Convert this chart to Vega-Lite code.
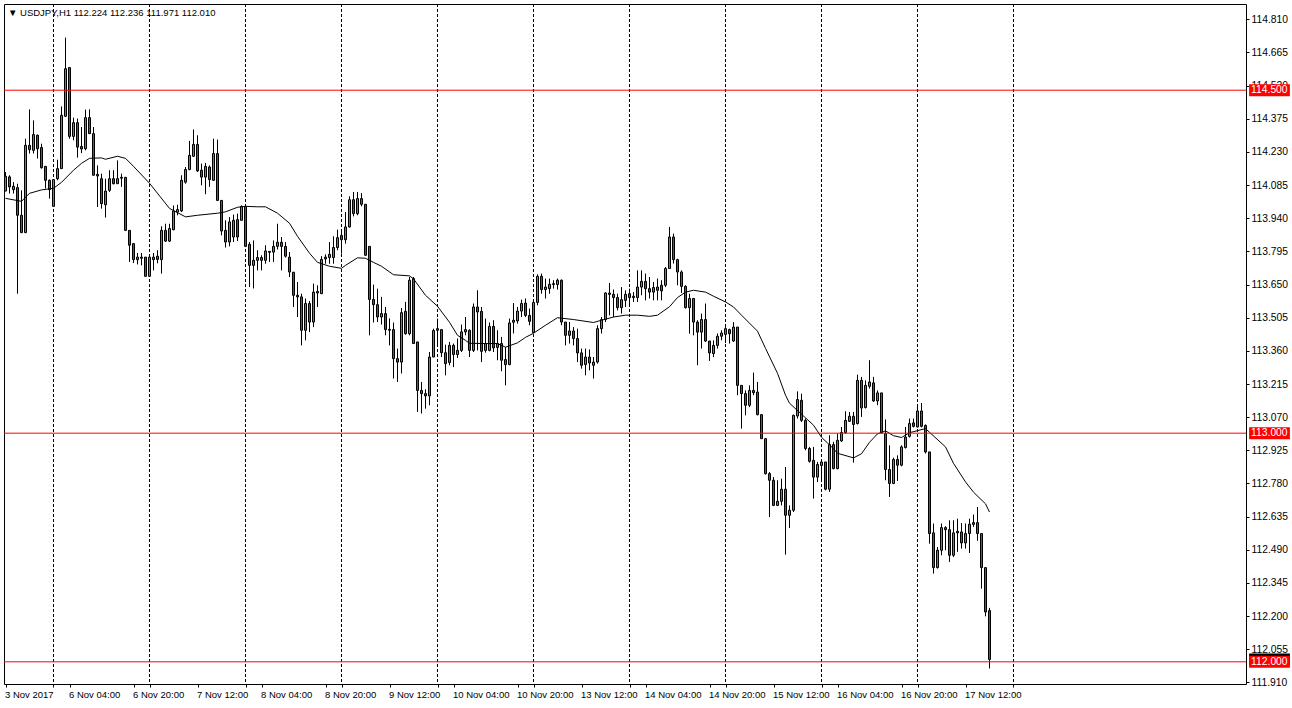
{
"$schema": "https://vega.github.io/schema/vega-lite/v6.json",
"width": 1242, "height": 680,
"autosize": {"type": "none"},
"padding": {"left": 4, "top": 4, "right": 46, "bottom": 24},
"background": "white",
"title": {"text": "▼ USDJPY,H1  112.224 112.236 111.971 112.010", "anchor": "start", "orient": "top", "frame": "group", "offset": -8, "dy": 11, "baseline": "middle", "dx": 4, "font": "Liberation Sans", "fontSize": 9.5, "fontWeight": "normal", "color": "black"},
"config": {"view": {"stroke": "black", "strokeWidth": 1}, "axis": {"labelFont": "Liberation Sans", "labelFontSize": 9.5, "labelColor": "black", "tickColor": "black", "domain": false, "grid": false, "labelOverlap": false, "labelFlush": false, "labelBound": false}},
"datasets": {
"bars": [
{"i":0,"o":114.059,"h":114.142,"l":114.058,"c":114.124},
{"i":1,"o":114.121,"h":114.128,"l":114.048,"c":114.077},
{"i":2,"o":114.065,"h":114.098,"l":114.048,"c":114.080},
{"i":3,"o":114.074,"h":114.091,"l":113.610,"c":113.953},
{"i":4,"o":113.953,"h":114.062,"l":113.877,"c":113.877},
{"i":5,"o":113.877,"h":114.288,"l":113.877,"c":114.259},
{"i":6,"o":114.259,"h":114.416,"l":114.223,"c":114.240},
{"i":7,"o":114.237,"h":114.368,"l":114.223,"c":114.306},
{"i":8,"o":114.303,"h":114.306,"l":114.201,"c":114.244},
{"i":9,"o":114.249,"h":114.266,"l":114.157,"c":114.161},
{"i":10,"o":114.167,"h":114.167,"l":114.070,"c":114.106},
{"i":11,"o":114.106,"h":114.110,"l":114.026,"c":114.065},
{"i":12,"o":113.992,"h":114.109,"l":113.992,"c":114.109},
{"i":13,"o":114.113,"h":114.196,"l":114.106,"c":114.157},
{"i":14,"o":114.157,"h":114.429,"l":114.157,"c":114.390},
{"i":15,"o":114.386,"h":114.730,"l":114.383,"c":114.594},
{"i":16,"o":114.599,"h":114.599,"l":114.288,"c":114.298},
{"i":17,"o":114.298,"h":114.380,"l":114.281,"c":114.358},
{"i":18,"o":114.358,"h":114.376,"l":114.205,"c":114.251},
{"i":19,"o":114.254,"h":114.339,"l":114.225,"c":114.243},
{"i":20,"o":114.244,"h":114.415,"l":114.237,"c":114.380},
{"i":21,"o":114.380,"h":114.416,"l":114.310,"c":114.310},
{"i":22,"o":114.310,"h":114.339,"l":114.128,"c":114.128},
{"i":23,"o":114.132,"h":114.171,"l":113.989,"c":114.125},
{"i":24,"o":114.113,"h":114.135,"l":113.982,"c":114.004},
{"i":25,"o":113.999,"h":114.113,"l":113.943,"c":114.059},
{"i":26,"o":114.062,"h":114.150,"l":114.055,"c":114.113},
{"i":27,"o":114.113,"h":114.150,"l":114.088,"c":114.091},
{"i":28,"o":114.091,"h":114.193,"l":114.091,"c":114.113},
{"i":29,"o":114.119,"h":114.135,"l":114.077,"c":114.115},
{"i":30,"o":114.119,"h":114.120,"l":113.887,"c":113.887},
{"i":31,"o":113.887,"h":113.887,"l":113.749,"c":113.822},
{"i":32,"o":113.829,"h":113.829,"l":113.744,"c":113.759},
{"i":33,"o":113.759,"h":113.788,"l":113.738,"c":113.770},
{"i":34,"o":113.770,"h":113.788,"l":113.734,"c":113.765},
{"i":35,"o":113.770,"h":113.770,"l":113.686,"c":113.686},
{"i":36,"o":113.686,"h":113.774,"l":113.683,"c":113.770},
{"i":37,"o":113.759,"h":113.788,"l":113.712,"c":113.770},
{"i":38,"o":113.774,"h":113.800,"l":113.743,"c":113.760},
{"i":39,"o":113.759,"h":113.905,"l":113.698,"c":113.887},
{"i":40,"o":113.887,"h":113.916,"l":113.836,"c":113.840},
{"i":41,"o":113.840,"h":113.916,"l":113.836,"c":113.895},
{"i":42,"o":113.890,"h":113.996,"l":113.887,"c":113.972},
{"i":43,"o":113.967,"h":113.999,"l":113.953,"c":113.978},
{"i":44,"o":113.972,"h":114.128,"l":113.967,"c":114.106},
{"i":45,"o":114.098,"h":114.164,"l":114.091,"c":114.153},
{"i":46,"o":114.153,"h":114.278,"l":114.150,"c":114.215},
{"i":47,"o":114.211,"h":114.328,"l":114.208,"c":114.263},
{"i":48,"o":114.263,"h":114.303,"l":114.142,"c":114.147},
{"i":49,"o":114.150,"h":114.179,"l":114.084,"c":114.120},
{"i":50,"o":114.120,"h":114.182,"l":114.045,"c":114.167},
{"i":51,"o":114.164,"h":114.171,"l":114.077,"c":114.109},
{"i":52,"o":114.106,"h":114.288,"l":114.103,"c":114.223},
{"i":53,"o":114.223,"h":114.284,"l":114.018,"c":114.018},
{"i":54,"o":114.018,"h":114.018,"l":113.865,"c":113.884},
{"i":55,"o":113.887,"h":113.931,"l":113.812,"c":113.836},
{"i":56,"o":113.836,"h":113.945,"l":113.817,"c":113.924},
{"i":57,"o":113.858,"h":113.956,"l":113.836,"c":113.931},
{"i":58,"o":113.934,"h":113.960,"l":113.840,"c":113.858},
{"i":59,"o":113.931,"h":113.996,"l":113.931,"c":113.992},
{"i":60,"o":113.992,"h":114.001,"l":113.814,"c":113.817},
{"i":61,"o":113.826,"h":113.836,"l":113.639,"c":113.734},
{"i":62,"o":113.734,"h":113.843,"l":113.633,"c":113.756},
{"i":63,"o":113.756,"h":113.800,"l":113.712,"c":113.768},
{"i":64,"o":113.768,"h":113.778,"l":113.712,"c":113.756},
{"i":65,"o":113.756,"h":113.822,"l":113.741,"c":113.797},
{"i":66,"o":113.795,"h":113.795,"l":113.749,"c":113.791},
{"i":67,"o":113.792,"h":113.843,"l":113.749,"c":113.817},
{"i":68,"o":113.817,"h":113.916,"l":113.803,"c":113.835},
{"i":69,"o":113.835,"h":113.858,"l":113.712,"c":113.817},
{"i":70,"o":113.817,"h":113.836,"l":113.768,"c":113.774},
{"i":71,"o":113.770,"h":113.792,"l":113.683,"c":113.705},
{"i":72,"o":113.704,"h":113.704,"l":113.552,"c":113.603},
{"i":73,"o":113.603,"h":113.661,"l":113.508,"c":113.596},
{"i":74,"o":113.596,"h":113.610,"l":113.384,"c":113.450},
{"i":75,"o":113.450,"h":113.589,"l":113.406,"c":113.567},
{"i":76,"o":113.567,"h":113.578,"l":113.442,"c":113.486},
{"i":77,"o":113.486,"h":113.654,"l":113.464,"c":113.617},
{"i":78,"o":113.620,"h":113.647,"l":113.552,"c":113.613},
{"i":79,"o":113.610,"h":113.774,"l":113.610,"c":113.760},
{"i":80,"o":113.762,"h":113.782,"l":113.741,"c":113.770},
{"i":81,"o":113.768,"h":113.836,"l":113.741,"c":113.782},
{"i":82,"o":113.768,"h":113.861,"l":113.741,"c":113.812},
{"i":83,"o":113.812,"h":113.890,"l":113.800,"c":113.855},
{"i":84,"o":113.865,"h":113.890,"l":113.785,"c":113.846},
{"i":85,"o":113.846,"h":113.967,"l":113.829,"c":113.902},
{"i":86,"o":113.902,"h":114.036,"l":113.899,"c":114.021},
{"i":87,"o":114.021,"h":114.055,"l":113.948,"c":113.960},
{"i":88,"o":113.960,"h":114.055,"l":113.953,"c":114.026},
{"i":89,"o":114.026,"h":114.050,"l":113.992,"c":114.001},
{"i":90,"o":114.001,"h":114.001,"l":113.778,"c":113.778},
{"i":91,"o":113.817,"h":113.818,"l":113.428,"c":113.585},
{"i":92,"o":113.585,"h":113.650,"l":113.484,"c":113.562},
{"i":93,"o":113.562,"h":113.632,"l":113.486,"c":113.508},
{"i":94,"o":113.508,"h":113.596,"l":113.475,"c":113.523},
{"i":95,"o":113.523,"h":113.552,"l":113.428,"c":113.453},
{"i":96,"o":113.454,"h":113.502,"l":113.384,"c":113.450},
{"i":97,"o":113.453,"h":113.484,"l":113.239,"c":113.326},
{"i":98,"o":113.326,"h":113.370,"l":113.224,"c":113.311},
{"i":99,"o":113.311,"h":113.547,"l":113.261,"c":113.527},
{"i":100,"o":113.533,"h":113.574,"l":113.431,"c":113.435},
{"i":101,"o":113.435,"h":113.683,"l":113.428,"c":113.669},
{"i":102,"o":113.676,"h":113.683,"l":113.392,"c":113.392},
{"i":103,"o":113.399,"h":113.399,"l":113.093,"c":113.187},
{"i":104,"o":113.187,"h":113.224,"l":113.086,"c":113.173},
{"i":105,"o":113.173,"h":113.192,"l":113.107,"c":113.163},
{"i":106,"o":113.163,"h":113.355,"l":113.122,"c":113.333},
{"i":107,"o":113.333,"h":113.457,"l":113.333,"c":113.449},
{"i":108,"o":113.457,"h":113.501,"l":113.384,"c":113.450},
{"i":109,"o":113.453,"h":113.453,"l":113.333,"c":113.352},
{"i":110,"o":113.352,"h":113.387,"l":113.253,"c":113.304},
{"i":111,"o":113.309,"h":113.399,"l":113.297,"c":113.384},
{"i":112,"o":113.384,"h":113.392,"l":113.289,"c":113.344},
{"i":113,"o":113.344,"h":113.414,"l":113.329,"c":113.362},
{"i":114,"o":113.362,"h":113.475,"l":113.355,"c":113.443},
{"i":115,"o":113.443,"h":113.508,"l":113.428,"c":113.453},
{"i":116,"o":113.450,"h":113.454,"l":113.333,"c":113.362},
{"i":117,"o":113.362,"h":113.567,"l":113.355,"c":113.552},
{"i":118,"o":113.552,"h":113.625,"l":113.362,"c":113.530},
{"i":119,"o":113.533,"h":113.552,"l":113.311,"c":113.358},
{"i":120,"o":113.362,"h":113.501,"l":113.352,"c":113.392},
{"i":121,"o":113.362,"h":113.484,"l":113.358,"c":113.467},
{"i":122,"o":113.467,"h":113.494,"l":113.355,"c":113.373},
{"i":123,"o":113.375,"h":113.450,"l":113.319,"c":113.392},
{"i":124,"o":113.392,"h":113.421,"l":113.271,"c":113.319},
{"i":125,"o":113.322,"h":113.376,"l":113.209,"c":113.300},
{"i":126,"o":113.300,"h":113.501,"l":113.297,"c":113.482},
{"i":127,"o":113.485,"h":113.569,"l":113.436,"c":113.494},
{"i":128,"o":113.491,"h":113.552,"l":113.479,"c":113.534},
{"i":129,"o":113.534,"h":113.584,"l":113.508,"c":113.567},
{"i":130,"o":113.569,"h":113.589,"l":113.508,"c":113.515},
{"i":131,"o":113.515,"h":113.545,"l":113.472,"c":113.489},
{"i":132,"o":113.440,"h":113.572,"l":113.440,"c":113.572},
{"i":133,"o":113.572,"h":113.695,"l":113.559,"c":113.686},
{"i":134,"o":113.686,"h":113.698,"l":113.610,"c":113.628},
{"i":135,"o":113.628,"h":113.676,"l":113.589,"c":113.639},
{"i":136,"o":113.632,"h":113.676,"l":113.610,"c":113.651},
{"i":137,"o":113.650,"h":113.669,"l":113.632,"c":113.654},
{"i":138,"o":113.650,"h":113.676,"l":113.628,"c":113.669},
{"i":139,"o":113.669,"h":113.672,"l":113.472,"c":113.486},
{"i":140,"o":113.486,"h":113.486,"l":113.384,"c":113.428},
{"i":141,"o":113.428,"h":113.486,"l":113.392,"c":113.447},
{"i":142,"o":113.447,"h":113.464,"l":113.384,"c":113.414},
{"i":143,"o":113.414,"h":113.457,"l":113.311,"c":113.351},
{"i":144,"o":113.351,"h":113.370,"l":113.282,"c":113.297},
{"i":145,"o":113.300,"h":113.370,"l":113.253,"c":113.333},
{"i":146,"o":113.333,"h":113.366,"l":113.275,"c":113.307},
{"i":147,"o":113.297,"h":113.333,"l":113.239,"c":113.311},
{"i":148,"o":113.311,"h":113.472,"l":113.304,"c":113.457},
{"i":149,"o":113.457,"h":113.508,"l":113.436,"c":113.497},
{"i":150,"o":113.497,"h":113.617,"l":113.486,"c":113.613},
{"i":151,"o":113.613,"h":113.657,"l":113.515,"c":113.607},
{"i":152,"o":113.607,"h":113.628,"l":113.508,"c":113.593},
{"i":153,"o":113.593,"h":113.610,"l":113.537,"c":113.549},
{"i":154,"o":113.549,"h":113.639,"l":113.523,"c":113.584},
{"i":155,"o":113.581,"h":113.625,"l":113.552,"c":113.607},
{"i":156,"o":113.610,"h":113.632,"l":113.559,"c":113.593},
{"i":157,"o":113.593,"h":113.617,"l":113.574,"c":113.599},
{"i":158,"o":113.593,"h":113.712,"l":113.574,"c":113.639},
{"i":159,"o":113.639,"h":113.712,"l":113.603,"c":113.664},
{"i":160,"o":113.664,"h":113.698,"l":113.581,"c":113.632},
{"i":161,"o":113.632,"h":113.683,"l":113.589,"c":113.617},
{"i":162,"o":113.617,"h":113.661,"l":113.581,"c":113.637},
{"i":163,"o":113.625,"h":113.676,"l":113.581,"c":113.639},
{"i":164,"o":113.647,"h":113.669,"l":113.581,"c":113.622},
{"i":165,"o":113.647,"h":113.727,"l":113.639,"c":113.720},
{"i":166,"o":113.720,"h":113.902,"l":113.720,"c":113.858},
{"i":167,"o":113.858,"h":113.873,"l":113.742,"c":113.759},
{"i":168,"o":113.759,"h":113.763,"l":113.647,"c":113.705},
{"i":169,"o":113.705,"h":113.712,"l":113.613,"c":113.642},
{"i":170,"o":113.642,"h":113.647,"l":113.545,"c":113.549},
{"i":171,"o":113.549,"h":113.610,"l":113.435,"c":113.589},
{"i":172,"o":113.589,"h":113.589,"l":113.428,"c":113.486},
{"i":173,"o":113.486,"h":113.494,"l":113.297,"c":113.442},
{"i":174,"o":113.442,"h":113.523,"l":113.370,"c":113.497},
{"i":175,"o":113.497,"h":113.567,"l":113.399,"c":113.403},
{"i":176,"o":113.403,"h":113.403,"l":113.316,"c":113.351},
{"i":177,"o":113.348,"h":113.406,"l":113.333,"c":113.384},
{"i":178,"o":113.384,"h":113.436,"l":113.370,"c":113.424},
{"i":179,"o":113.424,"h":113.450,"l":113.406,"c":113.438},
{"i":180,"o":113.432,"h":113.464,"l":113.394,"c":113.457},
{"i":181,"o":113.453,"h":113.457,"l":113.392,"c":113.435},
{"i":182,"o":113.403,"h":113.486,"l":113.399,"c":113.464},
{"i":183,"o":113.464,"h":113.464,"l":113.166,"c":113.209},
{"i":184,"o":113.209,"h":113.209,"l":113.020,"c":113.173},
{"i":185,"o":113.173,"h":113.187,"l":113.078,"c":113.122},
{"i":186,"o":113.122,"h":113.209,"l":113.114,"c":113.187},
{"i":187,"o":113.187,"h":113.265,"l":113.166,"c":113.177},
{"i":188,"o":113.180,"h":113.224,"l":113.078,"c":113.081},
{"i":189,"o":113.081,"h":113.081,"l":112.976,"c":112.976},
{"i":190,"o":112.976,"h":112.976,"l":112.819,"c":112.823},
{"i":191,"o":112.823,"h":112.830,"l":112.633,"c":112.794},
{"i":192,"o":112.794,"h":112.808,"l":112.681,"c":112.684},
{"i":193,"o":112.684,"h":112.794,"l":112.681,"c":112.702},
{"i":194,"o":112.702,"h":112.801,"l":112.684,"c":112.755},
{"i":195,"o":112.755,"h":112.852,"l":112.469,"c":112.641},
{"i":196,"o":112.641,"h":112.684,"l":112.585,"c":112.663},
{"i":197,"o":112.663,"h":113.081,"l":112.655,"c":113.078},
{"i":198,"o":113.075,"h":113.183,"l":113.064,"c":113.147},
{"i":199,"o":113.144,"h":113.173,"l":113.049,"c":113.056},
{"i":200,"o":113.056,"h":113.064,"l":112.925,"c":112.933},
{"i":201,"o":112.933,"h":112.940,"l":112.871,"c":112.877},
{"i":202,"o":112.881,"h":112.940,"l":112.714,"c":112.808},
{"i":203,"o":112.808,"h":112.874,"l":112.786,"c":112.863},
{"i":204,"o":112.859,"h":112.877,"l":112.786,"c":112.874},
{"i":205,"o":112.874,"h":112.874,"l":112.750,"c":112.755},
{"i":206,"o":112.755,"h":112.991,"l":112.743,"c":112.950},
{"i":207,"o":112.950,"h":112.962,"l":112.842,"c":112.845},
{"i":208,"o":112.845,"h":112.998,"l":112.842,"c":112.969},
{"i":209,"o":112.966,"h":113.027,"l":112.962,"c":113.003},
{"i":210,"o":113.003,"h":113.096,"l":112.998,"c":113.056},
{"i":211,"o":113.052,"h":113.093,"l":113.049,"c":113.074},
{"i":212,"o":113.074,"h":113.093,"l":112.871,"c":113.038},
{"i":213,"o":113.042,"h":113.256,"l":113.038,"c":113.231},
{"i":214,"o":113.231,"h":113.246,"l":113.071,"c":113.110},
{"i":215,"o":113.112,"h":113.231,"l":113.108,"c":113.209},
{"i":216,"o":113.205,"h":113.319,"l":113.195,"c":113.224},
{"i":217,"o":113.220,"h":113.246,"l":113.137,"c":113.141},
{"i":218,"o":113.141,"h":113.187,"l":113.122,"c":113.176},
{"i":219,"o":113.176,"h":113.176,"l":113.001,"c":113.001},
{"i":220,"o":112.998,"h":113.060,"l":112.794,"c":112.841},
{"i":221,"o":112.841,"h":112.947,"l":112.721,"c":112.780},
{"i":222,"o":112.780,"h":112.893,"l":112.777,"c":112.885},
{"i":223,"o":112.885,"h":112.903,"l":112.791,"c":112.860},
{"i":224,"o":112.860,"h":112.947,"l":112.855,"c":112.940},
{"i":225,"o":112.937,"h":113.027,"l":112.933,"c":112.983},
{"i":226,"o":112.986,"h":113.064,"l":112.981,"c":113.042},
{"i":227,"o":113.045,"h":113.064,"l":113.025,"c":113.030},
{"i":228,"o":113.027,"h":113.115,"l":113.025,"c":113.097},
{"i":229,"o":113.097,"h":113.132,"l":113.025,"c":113.030},
{"i":230,"o":113.034,"h":113.038,"l":112.911,"c":112.918},
{"i":231,"o":112.918,"h":112.918,"l":112.517,"c":112.561},
{"i":232,"o":112.564,"h":112.605,"l":112.386,"c":112.412},
{"i":233,"o":112.412,"h":112.502,"l":112.408,"c":112.488},
{"i":234,"o":112.488,"h":112.605,"l":112.466,"c":112.587},
{"i":235,"o":112.587,"h":112.593,"l":112.488,"c":112.578},
{"i":236,"o":112.578,"h":112.619,"l":112.437,"c":112.466},
{"i":237,"o":112.466,"h":112.619,"l":112.458,"c":112.564},
{"i":238,"o":112.571,"h":112.626,"l":112.481,"c":112.564},
{"i":239,"o":112.568,"h":112.607,"l":112.495,"c":112.520},
{"i":240,"o":112.520,"h":112.605,"l":112.495,"c":112.561},
{"i":241,"o":112.561,"h":112.626,"l":112.476,"c":112.602},
{"i":242,"o":112.609,"h":112.644,"l":112.590,"c":112.601},
{"i":243,"o":112.609,"h":112.677,"l":112.529,"c":112.561},
{"i":244,"o":112.561,"h":112.563,"l":112.320,"c":112.412},
{"i":245,"o":112.412,"h":112.412,"l":112.199,"c":112.218},
{"i":246,"o":112.224,"h":112.236,"l":111.971,"c":112.010}
],
"ma": [
{"i":0,"v":114.027},{"i":4,"v":114.014},{"i":6,"v":114.049},{"i":9,"v":114.064},{"i":12,"v":114.071},{"i":14,"v":114.097},{"i":17,"v":114.150},{"i":19,"v":114.180},{"i":21,"v":114.202},{"i":24,"v":114.204},{"i":25,"v":114.198},{"i":28,"v":114.211},{"i":30,"v":114.202},{"i":32,"v":114.167},{"i":36,"v":114.093},{"i":41,"v":113.983},{"i":45,"v":113.946},{"i":48,"v":113.953},{"i":53,"v":113.962},{"i":55,"v":113.968},{"i":58,"v":113.988},{"i":60,"v":113.992},{"i":63,"v":113.990},{"i":65,"v":113.990},{"i":68,"v":113.962},{"i":71,"v":113.918},{"i":73,"v":113.861},{"i":76,"v":113.787},{"i":78,"v":113.747},{"i":81,"v":113.730},{"i":84,"v":113.721},{"i":85,"v":113.734},{"i":88,"v":113.767},{"i":90,"v":113.765},{"i":92,"v":113.747},{"i":94,"v":113.730},{"i":97,"v":113.693},{"i":101,"v":113.688},{"i":102,"v":113.675},{"i":105,"v":113.603},{"i":108,"v":113.555},{"i":111,"v":113.485},{"i":113,"v":113.428},{"i":115,"v":113.406},{"i":116,"v":113.393},{"i":120,"v":113.392},{"i":123,"v":113.392},{"i":125,"v":113.376},{"i":128,"v":113.395},{"i":130,"v":113.419},{"i":132,"v":113.437},{"i":135,"v":113.472},{"i":138,"v":113.505},{"i":142,"v":113.497},{"i":147,"v":113.484},{"i":149,"v":113.494},{"i":152,"v":113.508},{"i":155,"v":113.516},{"i":158,"v":113.516},{"i":161,"v":113.511},{"i":163,"v":113.516},{"i":166,"v":113.553},{"i":168,"v":113.593},{"i":170,"v":113.617},{"i":172,"v":113.625},{"i":175,"v":113.617},{"i":177,"v":113.599},{"i":180,"v":113.574},{"i":182,"v":113.552},{"i":184,"v":113.516},{"i":188,"v":113.446},{"i":190,"v":113.371},{"i":193,"v":113.262},{"i":195,"v":113.166},{"i":196,"v":113.131},{"i":199,"v":113.083},{"i":202,"v":113.035},{"i":204,"v":112.982},{"i":207,"v":112.932},{"i":208,"v":112.912},{"i":212,"v":112.892},{"i":214,"v":112.910},{"i":216,"v":112.960},{"i":218,"v":112.997},{"i":220,"v":113.010},{"i":222,"v":112.989},{"i":224,"v":112.981},{"i":226,"v":113.002},{"i":230,"v":113.020},{"i":231,"v":113.004},{"i":235,"v":112.940},{"i":237,"v":112.868},{"i":240,"v":112.787},{"i":242,"v":112.742},{"i":245,"v":112.691},{"i":246,"v":112.655}
],
"sep": [{"i":12},{"i":36},{"i":60},{"i":84},{"i":108},{"i":132},{"i":156},{"i":180},{"i":204},{"i":228},{"i":252}],
"levels": [{"p":114.5},{"p":113.0},{"p":112.0}],
"bid": [{"p":112.010}]
},
"layer": [
{"data": {"name": "sep"}, "mark": {"type": "rule", "color": "black", "strokeWidth": 1, "strokeDash": [3, 2]},
 "encoding": {"x": {"field": "i", "type": "quantitative", "title": null}}},
{"data": {"name": "bars"}, "mark": {"type": "rule", "color": "black", "strokeWidth": 1},
 "encoding": {
  "x": {"field": "i", "type": "quantitative", "title": null, "scale": {"domain": [-0.375, 310.125], "nice": false, "zero": false, "padding": 0},
   "axis": {"orient": "bottom", "values": [0,12,16,32,36,48,60,64,80,84,96,108,112,128,132,144,156,160,176,180,192,204,208,224,228,240,252], "tickCount": 60, "labelExpr": "datum.value % 16 == 0 ? ['3 Nov 2017','6 Nov 04:00','6 Nov 20:00','7 Nov 12:00','8 Nov 04:00','8 Nov 20:00','9 Nov 12:00','10 Nov 04:00','10 Nov 20:00','13 Nov 12:00','14 Nov 04:00','14 Nov 20:00','15 Nov 12:00','16 Nov 04:00','16 Nov 20:00','17 Nov 12:00'][datum.value / 16] : ''", "labelAlign": "left", "labelOffset": -1, "labelOverlap": false, "labelFlush": false, "labelBound": false, "tickSize": 3, "labelPadding": 2, "title": null}},
  "y": {"field": "l", "type": "quantitative", "title": null, "scale": {"domain": [111.903, 114.877], "nice": false, "zero": false, "padding": 0},
   "axis": {"orient": "right", "values": [111.91,112.055,112.2,112.345,112.49,112.635,112.78,112.925,113.07,113.215,113.36,113.505,113.65,113.795,113.94,114.085,114.23,114.375,114.52,114.665,114.81], "tickCount": 60, "format": ".3f", "tickSize": 3, "labelPadding": 2, "labelFontSize": 10.3, "labelOverlap": false, "labelFlush": false, "labelBound": false, "title": null}},
  "y2": {"field": "h"}}},
{"data": {"name": "bars"}, "mark": {"type": "bar", "size": 2, "stroke": "black", "strokeWidth": 1},
 "encoding": {
  "x": {"field": "i", "type": "quantitative", "title": null},
  "y": {"field": "o", "type": "quantitative", "title": null},
  "y2": {"field": "c"},
  "fill": {"condition": {"test": "datum.c >= datum.o", "value": "#22b822"}, "value": "#dd2222"}}},
{"data": {"name": "ma"}, "mark": {"type": "line", "color": "black", "strokeWidth": 1},
 "encoding": {"x": {"field": "i", "type": "quantitative", "title": null}, "y": {"field": "v", "type": "quantitative", "title": null}}},
{"data": {"name": "levels"}, "mark": {"type": "rule", "color": "#ff0000", "strokeWidth": 1},
 "encoding": {"y": {"field": "p", "type": "quantitative", "title": null}}},
{"data": {"name": "bid"}, "mark": {"type": "bar", "color": "black", "size": 12},
 "encoding": {"x": {"datum": 310.9, "type": "quantitative"}, "x2": {"datum": 321.1}, "y": {"field": "p", "type": "quantitative", "title": null}}},
{"data": {"name": "levels"}, "mark": {"type": "bar", "color": "#ff0000", "size": 12},
 "encoding": {"x": {"datum": 310.9, "type": "quantitative"}, "x2": {"datum": 321.1}, "y": {"field": "p", "type": "quantitative", "title": null}}},
{"data": {"name": "levels"}, "mark": {"type": "text", "color": "white", "align": "left", "baseline": "middle", "font": "Liberation Sans", "fontSize": 10.3},
 "encoding": {"x": {"datum": 311.4, "type": "quantitative"}, "y": {"field": "p", "type": "quantitative", "title": null}, "text": {"field": "p", "type": "quantitative", "format": ".3f"}}}
]
}
